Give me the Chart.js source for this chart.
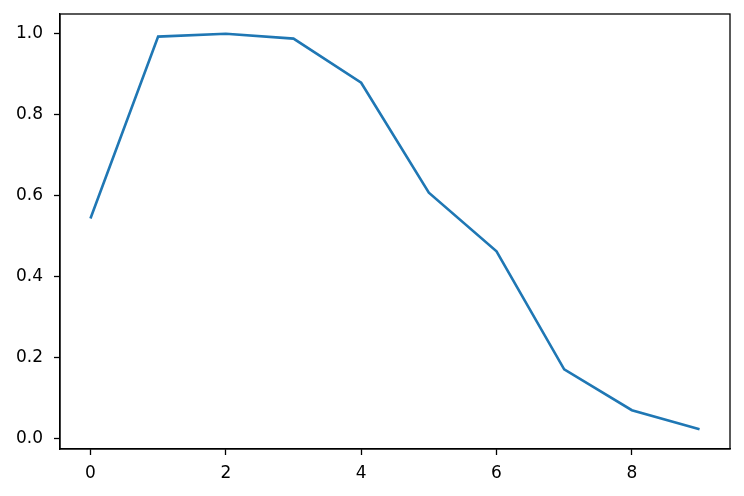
<!DOCTYPE html>
<html>
<head>
<meta charset="utf-8">
<script src="https://cdn.jsdelivr.net/npm/chart.js@4/dist/chart.umd.min.js"></script>
<style>
html,body{margin:0;padding:0;background:#fff;}
canvas{display:block;}
</style>
</head>
<body>
<canvas id="c" width="744" height="496"></canvas>
<script>
const xValues = [0, 1, 2, 3, 4, 5, 6, 7, 8, 9];
const yValues = [0.543, 0.993, 1.0, 0.988, 0.879, 0.607, 0.462, 0.170, 0.069, 0.022];
const xTicks = [0, 2, 4, 6, 8];
const yTicks = [0.0, 0.2, 0.4, 0.6, 0.8, 1.0];

const points = xValues.map((x, i) => ({x: x, y: yValues[i]}));

const frame = {
  id: 'frame',
  afterDraw(chart) {
    const a = chart.chartArea, ctx = chart.ctx;
    ctx.save();
    ctx.strokeStyle = '#000';
    ctx.lineWidth = 1.3;
    ctx.strokeRect(a.left, a.top, a.right - a.left, a.bottom - a.top);
    ctx.restore();
  }
};

const font = {family: 'DejaVu Sans', size: 17};

new Chart(document.getElementById('c'), {
  type: 'line',
  data: {
    datasets: [{
      data: points,
      borderColor: '#1f77b4',
      borderWidth: 2.6,
      pointRadius: 0,
      fill: false,
      tension: 0
    }]
  },
  options: {
    responsive: false,
    animation: false,
    layout: {padding: {top: 14, right: 14, left: 0, bottom: 0}},
    plugins: {legend: {display: false}, tooltip: {enabled: false}},
    scales: {
      x: {
        type: 'linear',
        min: -0.45,
        max: 9.45,
        afterBuildTicks(s) { s.ticks = xTicks.map(v => ({value: v})); },
        afterFit(s) { s.height = 47; s.paddingLeft = 0; s.paddingRight = 0; s.paddingTop = 0; s.paddingBottom = 0; },
        grid: {drawOnChartArea: false, drawTicks: true, tickLength: 6, tickWidth: 1.3, tickColor: '#000', color: '#000'},
        border: {display: true, color: '#000', width: 1.3},
        ticks: {color: '#000', font: font, padding: 8, maxRotation: 0, callback: v => String(v)}
      },
      y: {
        type: 'linear',
        min: -0.0269,
        max: 1.0489,
        afterBuildTicks(s) { s.ticks = yTicks.map(v => ({value: v})); },
        afterFit(s) { s.width = 60; s.paddingLeft = 0; s.paddingRight = 0; s.paddingTop = 0; s.paddingBottom = 0; },
        grid: {drawOnChartArea: false, drawTicks: true, tickLength: 6, tickWidth: 1.3, tickColor: '#000', color: '#000'},
        border: {display: true, color: '#000', width: 1.3},
        ticks: {color: '#000', font: font, padding: 11, callback: v => Number(v).toFixed(1)}
      }
    }
  },
  plugins: [frame]
});
</script>
</body>
</html>
